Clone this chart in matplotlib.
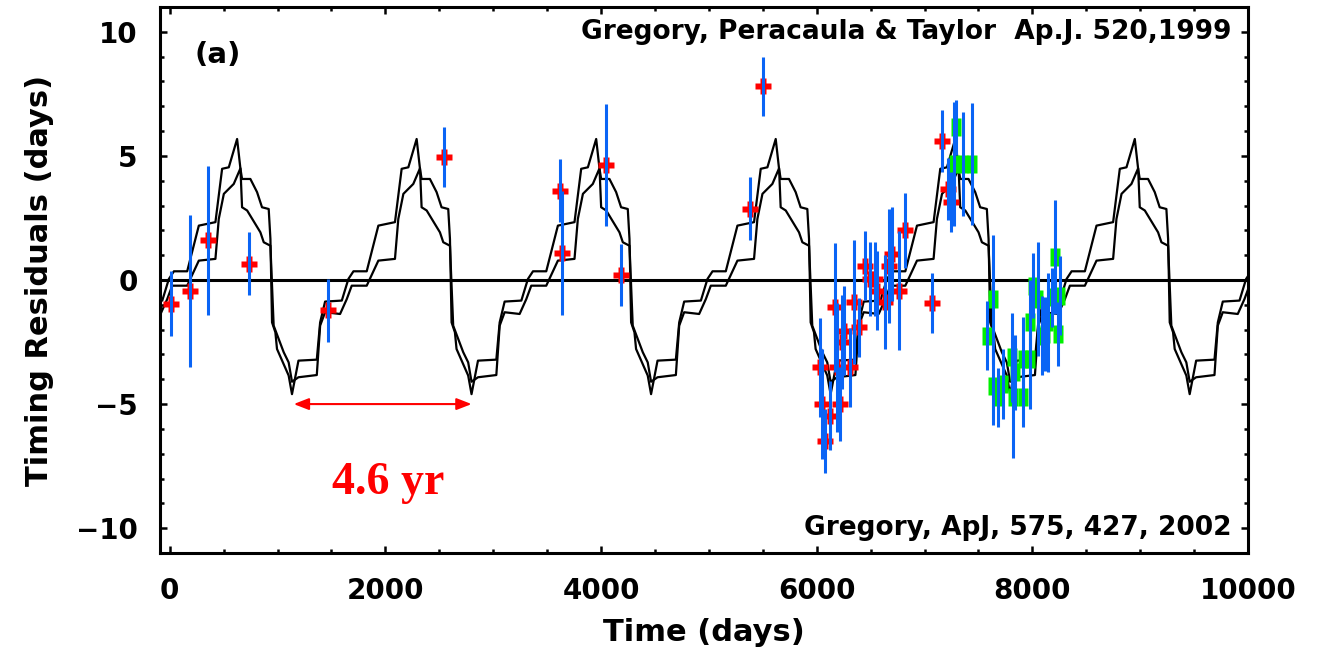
import matplotlib
matplotlib.use("Agg")
import matplotlib.pyplot as plt
from matplotlib.ticker import MultipleLocator
import numpy as np

plt.rcParams['font.family'] = ['DejaVu Sans']
plt.rcParams['font.weight'] = 'bold'

# orbital model: one cycle of each curve, days relative to the peak
period = 1665.0
first_peak = 625.0
model1_phase = [-1156, -1096, -926, -895, -849, -694, -633, -586, -463, -355, -201,
                -139, -77, 0, 31, 46, 123, 185, 231, 293, 309, 324, 355, 370, 478, 509]
model1_value = [-4.6, -3.25, -3.21, -1.71, -0.87, -0.83, 0.04, 0.35, 0.35, 2.19, 2.33,
                4.48, 4.54, 5.68, 4.48, 4.07, 4.07, 3.54, 2.93, 2.86, 1.65, -1.71, -2.11,
                -2.78, -3.85, -4.6]
model2_phase = [-1156, -1096, -926, -895, -849, -710, -648, -602, -463, -355, -201,
                -170, -123, -31, 31, 46, 93, 216, 247, 309, 339, 386, 432, 478, 509]
model2_value = [-4.1, -3.92, -3.83, -1.84, -1.30, -1.37, -0.77, -0.23, -0.23, 0.78, 0.85,
                2.46, 3.47, 3.87, 4.5, 2.93, 2.80, 1.92, 1.52, 1.38, -1.84, -2.38, -2.91,
                -3.32, -4.1]

# radio timing residuals (days) with 1-sigma errors
red_t = [16, 192, 355, 731, 1466, 2546, 3620, 3642, 4043, 4182, 5377, 5500,
         6034, 6049, 6080, 6127, 6167, 6188, 6219, 6235, 6250, 6312, 6343, 6389,
         6451, 6497, 6543, 6559, 6636, 6667, 6698, 6759, 6821, 7068, 7160, 7222, 7247]
red_r = [-0.95, -0.45, 1.6, 0.65, -1.22, 4.95, 3.6, 1.1, 4.63, 0.19, 2.87, 7.8,
         -3.52, -5.0, -6.48, -5.47, -1.1, -3.52, -5.0, -2.51, -2.04, -3.52, -0.9, -1.91,
         0.58, 0.04, 0.04, -0.43, -0.9, 0.58, 1.05, -0.43, 2.0, -0.92, 5.6, 3.65, 3.15]
red_e = [1.3, 3.05, 3.0, 1.27, 1.27, 1.2, 1.27, 2.5, 2.47, 1.24, 1.27, 1.2,
         2.0, 2.2, 1.3, 1.4, 2.6, 2.6, 1.5, 1.9, 1.8, 1.6, 2.5, 1.2,
         1.4, 1.5, 1.5, 1.6, 1.9, 2.3, 1.9, 2.4, 1.5, 1.2, 1.26, 1.25, 1.2]

green_t = [7296, 7269, 7361, 7444, 7577, 7639, 7639, 7685, 7731, 7824, 7808, 7840,
           7917, 7917, 7979, 7979, 8009, 8056, 8086, 8117, 8148, 8179, 8210, 8256, 8241]
green_r = [6.15, 4.68, 4.68, 4.68, -2.24, -0.77, -4.26, -4.73, -4.19, -4.73, -3.12, -3.72,
           -4.73, -3.19, -3.19, -1.71, -0.23, -0.77, -2.24, -2.18, -1.71, -0.7, 0.91, -0.63, -2.18]
green_e = [1.1, 2.5, 2.1, 2.45, 1.4, 2.6, 1.6, 1.2, 1.4, 2.45, 1.8, 1.5,
           1.2, 1.7, 2.0, 1.7, 1.3, 2.3, 1.6, 1.5, 2.0, 1.2, 2.3, 1.6, 1.3]

arrow_t = [1150, 2800]
arrow_r = -5.0

blue = '#0a64f5'
redc = '#ff0000'
greenc = '#00f000'

fig = plt.figure(figsize=(13.18, 6.58), dpi=100)
ax = fig.add_axes([0.1214, 0.1596, 0.8255, 0.8298])

# repeat each model cycle along the time axis
for ph, val in [(model1_phase, model1_value), (model2_phase, model2_value)]:
    xs, ys = [], []
    for k in range(-1, 7):
        xs.extend(first_peak + k * period + np.array(ph))
        ys.extend(val)
    ax.plot(xs, ys, color='black', lw=1.6, zorder=2)

ax.axhline(0, color='black', lw=2.2, zorder=2)

rect = [(-0.6, -1), (0.6, -1), (0.6, 1), (-0.6, 1), (-0.6, -1)]
ax.plot(red_t, red_r, 'P', color=redc, ms=12, mec='none', zorder=3)
ax.plot(green_t, green_r, marker=rect, ls='none', color=greenc, ms=13, mec='none', zorder=3)
ax.errorbar(red_t, red_r, yerr=red_e, fmt='none', ecolor=blue, elinewidth=2.2, capsize=0, zorder=4)
ax.errorbar(green_t, green_r, yerr=green_e, fmt='none', ecolor=blue, elinewidth=2.2, capsize=0, zorder=4)

ax.annotate('', xy=(arrow_t[1], arrow_r), xytext=(arrow_t[0], arrow_r),
            arrowprops=dict(arrowstyle='<|-|>,head_length=0.9,head_width=0.35',
                            color=redc, lw=1.5, shrinkA=0, shrinkB=0))
ax.text(2030, -8.2, '4.6 yr', color=redc, fontsize=33, fontweight='bold',
        family='Liberation Serif', ha='center', va='center')

ax.text(0.032, 0.912, '(a)', transform=ax.transAxes, fontsize=21, fontweight='bold',
        va='center')
ax.text(0.985, 0.955, 'Gregory, Peracaula & Taylor  Ap.J. 520,1999', transform=ax.transAxes,
        fontsize=19, fontweight='bold', ha='right', va='center')
ax.text(0.985, 0.045, 'Gregory, ApJ, 575, 427, 2002', transform=ax.transAxes,
        fontsize=19, fontweight='bold', ha='right', va='center')

ax.set_xlim(-90, 10000)
ax.set_ylim(-11, 11)
ax.xaxis.set_major_locator(MultipleLocator(2000))
ax.xaxis.set_minor_locator(MultipleLocator(500))
ax.yaxis.set_major_locator(MultipleLocator(5))
ax.yaxis.set_minor_locator(MultipleLocator(1))
ax.tick_params(which='both', direction='in', top=True, right=True, width=1.8)
ax.tick_params(which='major', length=5)
ax.tick_params(which='minor', length=3)
ax.tick_params(axis='x', which='major', pad=17, labelsize=20)
ax.tick_params(axis='y', which='major', pad=16, labelsize=20)
for s in ax.spines.values():
    s.set_linewidth(2.2)

ax.set_xlabel('Time (days)', fontsize=22, fontweight='bold', labelpad=10)
ax.set_ylabel('Timing Residuals (days)', fontsize=22, fontweight='bold', labelpad=16)

fig.savefig('out.png', dpi=100)
